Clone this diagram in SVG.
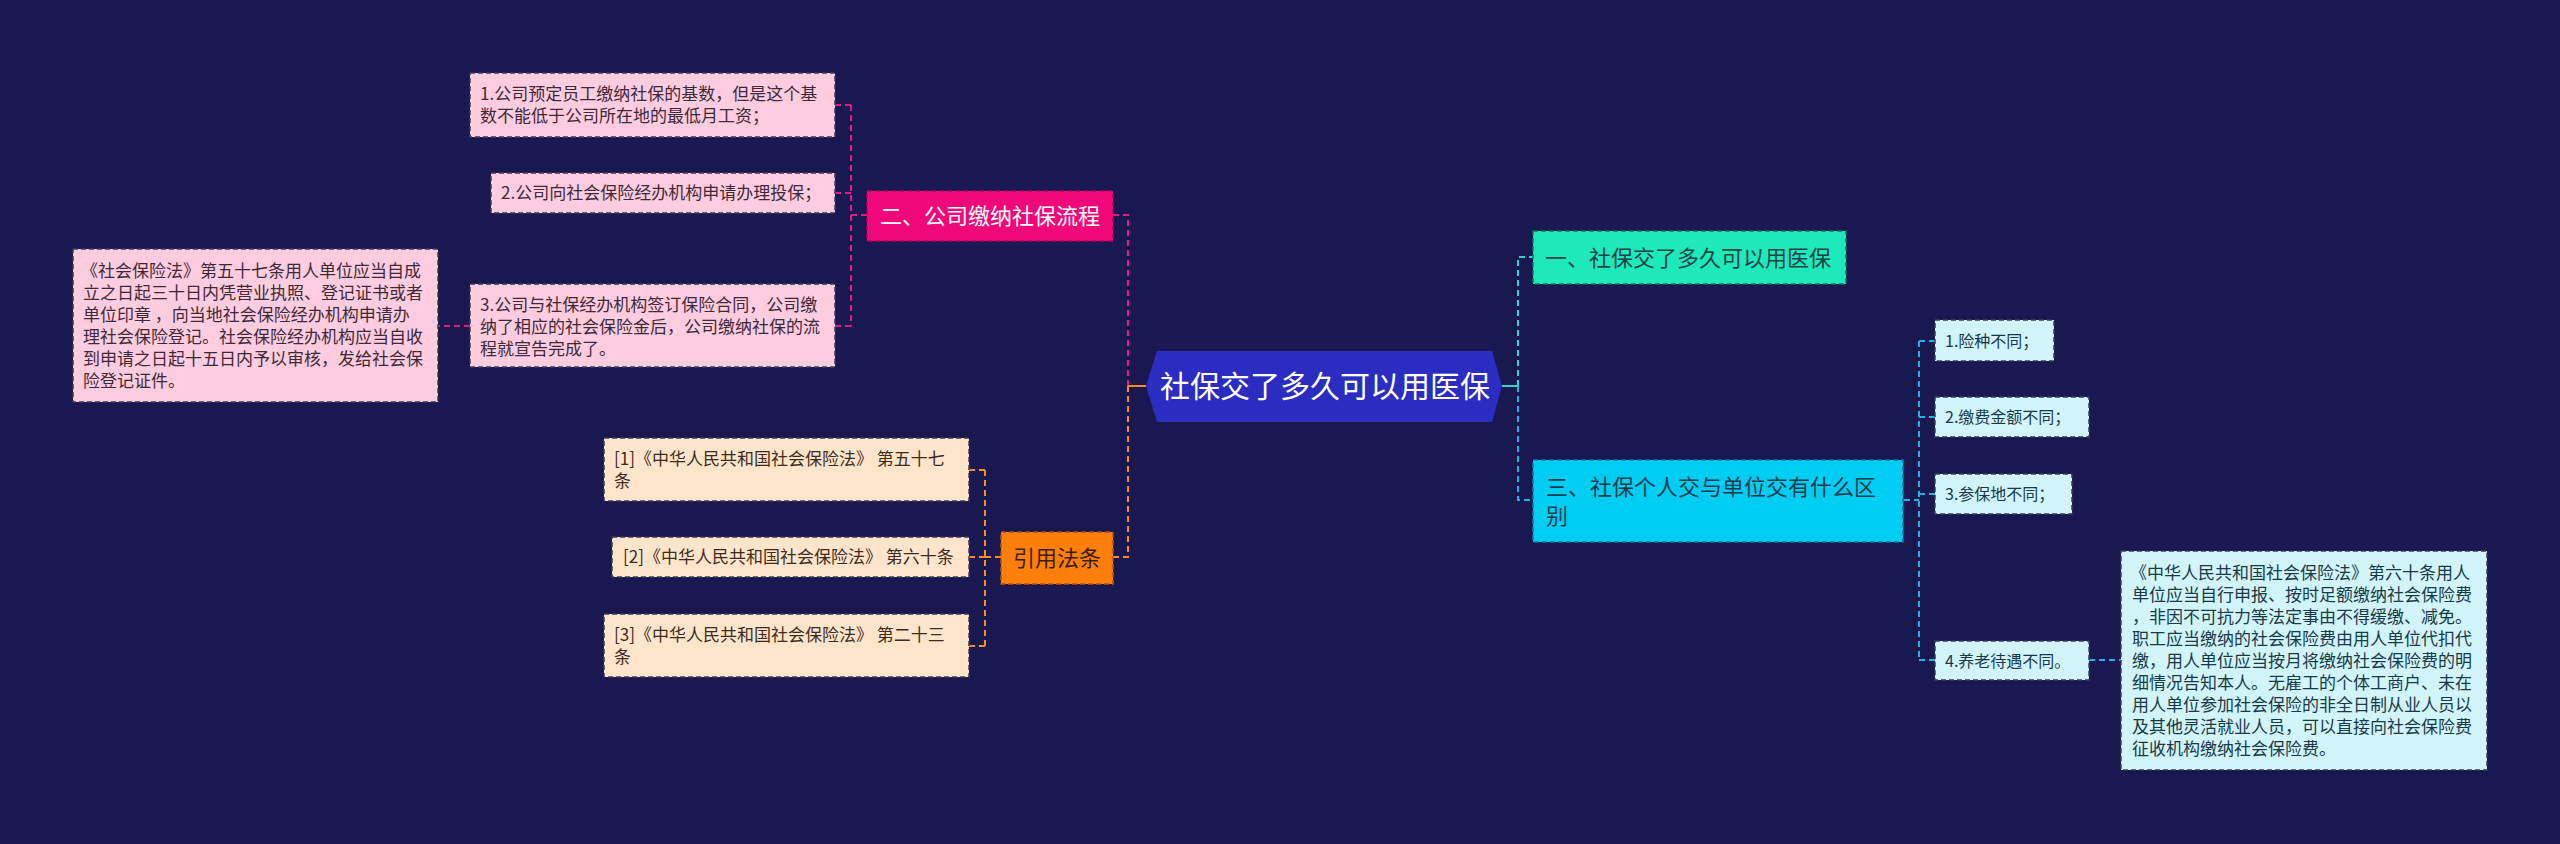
<svg xmlns="http://www.w3.org/2000/svg" width="2560" height="844" viewBox="0 0 2560 844">
<style>
text{font-family:"Noto Sans CJK SC","Noto Sans",sans-serif;}
.s17{font-size:17px;}
.s16{font-size:16px;}
.s22{font-size:22px;}
.sub{stroke:#3a3a55;stroke-width:1.5;stroke-dasharray:5 3;}
.pk{fill:#ffcce0;}
.pkt{fill:#3d2a38;}
.or{fill:#ffe5cc;}
.ort{fill:#3d2c1c;}
.cy{fill:#d2f4fb;}
.cyt{fill:#163a48;}
.c{fill:none;stroke-width:2;stroke-dasharray:6 4;}
.cp{stroke:#e8197e;}
.co{stroke:#ff8a1e;}
.ct{stroke:#2ed6cc;}
.cc{stroke:#1fb2e6;}
</style>
<rect x="0" y="0" width="2560" height="844" fill="#1a1850"/>
<g id="connectors">
<path class="c cp" d="M1113 215 H1128 V386"/>
<path class="c co" d="M1113 557 H1128 V386"/>
<path d="M1128 386 H1146" stroke="#ff8a1e" stroke-width="2" fill="none"/>
<path class="c cp" d="M867 215 H851 M851 105 V326 M851 105 H835 M851 193 H835 M851 326 H835"/>
<path class="c cp" d="M470 326 H438"/>
<path class="c co" d="M1001 557 H985 M985 470 V646 M985 470 H969 M985 557 H969 M985 646 H969"/>
<path d="M1502 386 H1518" stroke="#2ed6cc" stroke-width="2" fill="none"/>
<path class="c ct" d="M1518 386 V257 H1533"/>
<path class="c cc" d="M1518 386 V500 H1533"/>
<path class="c cc" d="M1904 500 H1919 M1919 341 V660 M1919 341 H1935 M1919 417 H1935 M1919 494 H1935 M1919 660 H1935"/>
<path class="c cc" d="M2089 660 H2121"/>
</g>
<g id="root">
<polygon points="1146,386 1157,351 1492,351 1502,386 1492,422 1157,422" fill="#2a2cc2"/>
<text x="1325" y="397" font-size="30" fill="#ffffff" text-anchor="middle">社保交了多久可以用医保</text>
</g>
<g id="n2">
<rect x="867" y="191" width="246" height="50" fill="#f0087a" stroke="#b8005a" stroke-width="1.5" stroke-dasharray="5 3"/>
<text x="880" y="224" class="s22" fill="#ffffff">二、公司缴纳社保流程</text>
</g>
<g id="n2-1">
<rect x="470" y="73" width="365" height="64" class="pk sub"/>
<text class="s17 pkt"><tspan x="480" y="100">1.公司预定员工缴纳社保的基数，但是这个基</tspan><tspan x="480" y="122">数不能低于公司所在地的最低月工资；</tspan></text>
</g>
<g id="n2-2">
<rect x="491" y="173" width="344" height="40" class="pk sub"/>
<text x="501" y="199" class="s17 pkt">2.公司向社会保险经办机构申请办理投保；</text>
</g>
<g id="n2-3">
<rect x="470" y="284" width="365" height="83" class="pk sub"/>
<text class="s17 pkt"><tspan x="480" y="311">3.公司与社保经办机构签订保险合同，公司缴</tspan><tspan x="480" y="333">纳了相应的社会保险金后，公司缴纳社保的流</tspan><tspan x="480" y="355">程就宣告完成了。</tspan></text>
</g>
<g id="n2-3-1">
<rect x="73" y="249" width="365" height="153" class="pk sub"/>
<text class="s17 pkt"><tspan x="81" y="277">《社会保险法》第五十七条用人单位应当自成</tspan><tspan x="83" y="299">立之日起三十日内凭营业执照、登记证书或者</tspan><tspan x="83" y="321">单位印章 ，向当地社会保险经办机构申请办</tspan><tspan x="83" y="343">理社会保险登记。社会保险经办机构应当自收</tspan><tspan x="83" y="365">到申请之日起十五日内予以审核，发给社会保</tspan><tspan x="83" y="387">险登记证件。</tspan></text>
</g>
<g id="n4">
<rect x="1001" y="532" width="112" height="52" fill="#ff7f0c" stroke="#b85200" stroke-width="1.5" stroke-dasharray="5 3"/>
<text x="1013" y="566" class="s22" fill="#3a1e05">引用法条</text>
</g>
<g id="n4-1">
<rect x="604" y="438" width="365" height="63" class="or sub"/>
<text class="s17 ort"><tspan x="614" y="465">[1]《中华人民共和国社会保险法》 第五十七</tspan><tspan x="614" y="487">条</tspan></text>
</g>
<g id="n4-2">
<rect x="612" y="537" width="357" height="40" class="or sub"/>
<text x="623" y="563" class="s17 ort">[2]《中华人民共和国社会保险法》 第六十条</text>
</g>
<g id="n4-3">
<rect x="604" y="614" width="365" height="63" class="or sub"/>
<text class="s17 ort"><tspan x="614" y="641">[3]《中华人民共和国社会保险法》 第二十三</tspan><tspan x="614" y="663">条</tspan></text>
</g>
<g id="n1">
<rect x="1533" y="231" width="313" height="53" fill="#1de9bc" stroke="#16705e" stroke-width="1.5" stroke-dasharray="5 3"/>
<text x="1545" y="266" class="s22" fill="#1c4446">一、社保交了多久可以用医保</text>
</g>
<g id="n3">
<rect x="1533" y="460" width="370" height="82" fill="#00cdf2" stroke="#0a7ea8" stroke-width="1.5" stroke-dasharray="5 3"/>
<text class="s22" fill="#123c4e"><tspan x="1546" y="495">三、社保个人交与单位交有什么区</tspan><tspan x="1546" y="524">别</tspan></text>
</g>
<g id="n3-1">
<rect x="1935" y="320" width="119" height="41" class="cy sub"/>
<text x="1945" y="346.5" class="s16 cyt">1.险种不同；</text>
</g>
<g id="n3-2">
<rect x="1935" y="397" width="154" height="40" class="cy sub"/>
<text x="1945" y="423" class="s16 cyt">2.缴费金额不同；</text>
</g>
<g id="n3-3">
<rect x="1935" y="474" width="137" height="40" class="cy sub"/>
<text x="1945" y="500" class="s16 cyt">3.参保地不同；</text>
</g>
<g id="n3-4">
<rect x="1935" y="641" width="154" height="39" class="cy sub"/>
<text x="1945" y="666.5" class="s16 cyt">4.养老待遇不同。</text>
</g>
<g id="n3-4-1">
<rect x="2121" y="551" width="366" height="219" class="cy sub"/>
<text class="s17 cyt"><tspan x="2130" y="579">《中华人民共和国社会保险法》第六十条用人</tspan><tspan x="2132" y="601">单位应当自行申报、按时足额缴纳社会保险费</tspan><tspan x="2132" y="623">，非因不可抗力等法定事由不得缓缴、减免。</tspan><tspan x="2132" y="645">职工应当缴纳的社会保险费由用人单位代扣代</tspan><tspan x="2132" y="667">缴，用人单位应当按月将缴纳社会保险费的明</tspan><tspan x="2132" y="689">细情况告知本人。无雇工的个体工商户、未在</tspan><tspan x="2132" y="711">用人单位参加社会保险的非全日制从业人员以</tspan><tspan x="2132" y="733">及其他灵活就业人员，可以直接向社会保险费</tspan><tspan x="2132" y="755">征收机构缴纳社会保险费。</tspan></text>
</g>
</svg>
